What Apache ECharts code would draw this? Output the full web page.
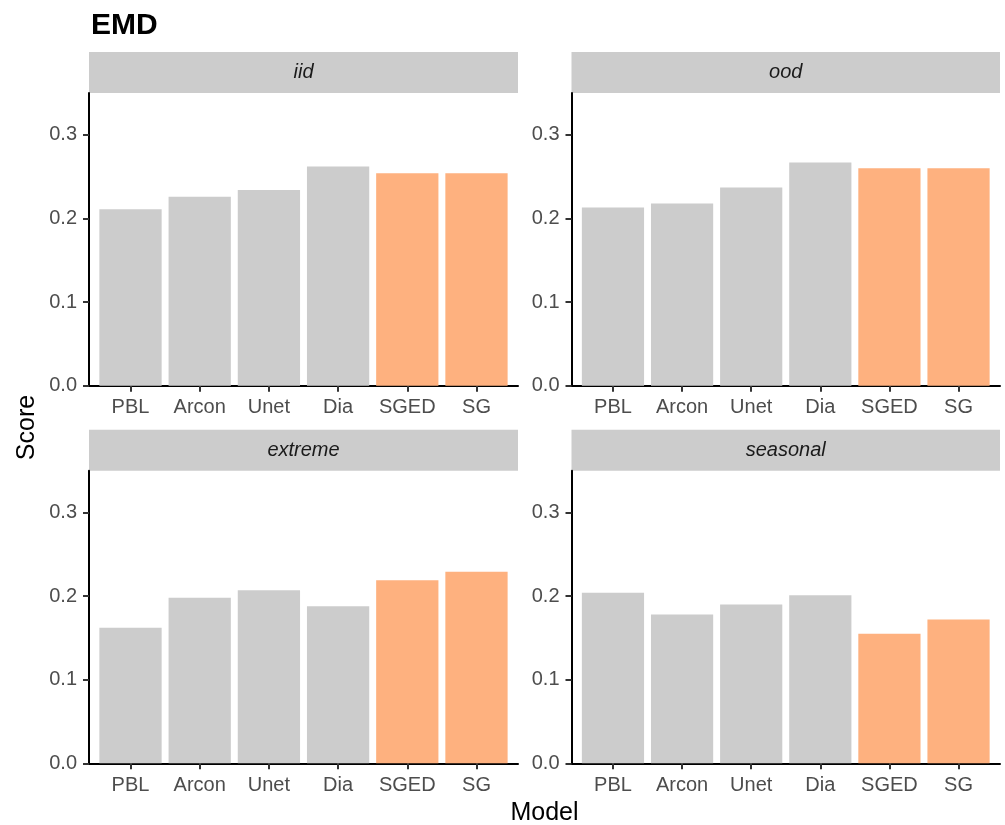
<!DOCTYPE html>
<html>
<head>
<meta charset="utf-8">
<script src="https://cdn.jsdelivr.net/npm/echarts@6/dist/echarts.min.js"></script>
<style>
  html, body { margin: 0; padding: 0; background: #fff; }
  #chart { width: 1005px; height: 825px; }
</style>
</head>
<body>
<div id="chart"></div>
<script>
// Model categories and EMD scores for each evaluation split
const models = ['PBL', 'Arcon', 'Unet', 'Dia', 'SGED', 'SG'];
const highlighted = ['SGED', 'SG'];
const iid = [0.211, 0.226, 0.234, 0.262, 0.254, 0.254];
const ood = [0.213, 0.218, 0.237, 0.267, 0.260, 0.260];
const extreme = [0.162, 0.198, 0.207, 0.188, 0.219, 0.229];
const seasonal = [0.204, 0.178, 0.190, 0.201, 0.155, 0.172];
const yTicks = [0, 0.1, 0.2, 0.3];

const FONT = "'Liberation Sans', Arial, Helvetica, sans-serif";
const GREY = '#CCCCCC';
const ORANGE = '#FEB17F';

// Panel boxes (plot area of each facet)
const panels = [
  { name: 'iid', values: iid, left: 89, top: 93, width: 429, height: 292.7 },
  { name: 'ood', values: ood, left: 571.5, top: 93, width: 428.5, height: 292.7 },
  { name: 'extreme', values: extreme, left: 89, top: 470.7, width: 429, height: 292.6 },
  { name: 'seasonal', values: seasonal, left: 571.5, top: 470.7, width: 428.5, height: 292.6 }
];
const STRIP_H = 41;

const grids = [], xAxes = [], yAxes = [], series = [], graphics = [];
const xTickPos = models.map((_, i) => i + 1);

panels.forEach((p, k) => {
  grids.push({ left: p.left, top: p.top, width: p.width, height: p.height, containLabel: false });
  xAxes.push({
    type: 'value', gridIndex: k, min: 0.4, max: 6.6,
    axisLine: { show: true, onZero: false, lineStyle: { color: '#000', width: 2 } },
    axisTick: { show: true, length: 6, customValues: xTickPos, lineStyle: { color: '#333', width: 2 } },
    axisLabel: {
      customValues: xTickPos, margin: 12, color: '#4D4D4D', fontSize: 20, fontFamily: FONT,
      formatter: v => models[Math.round(v) - 1] || ''
    },
    splitLine: { show: false }
  });
  yAxes.push({
    type: 'value', gridIndex: k, min: 0, max: 0.35,
    axisLine: { show: true, onZero: false, lineStyle: { color: '#000', width: 2 } },
    axisTick: { show: true, length: 6, customValues: yTicks, lineStyle: { color: '#333', width: 2 } },
    axisLabel: {
      customValues: yTicks, margin: 12, color: '#4D4D4D', fontSize: 20, fontFamily: FONT,
      formatter: v => v.toFixed(1)
    },
    splitLine: { show: false }
  });
  const unit = p.width / 6.2;
  series.push({
    type: 'bar', xAxisIndex: k, yAxisIndex: k,
    barWidth: unit * 0.9,
    silent: true,
    data: p.values.map((v, i) => ({
      value: [i + 1, v],
      itemStyle: { color: highlighted.includes(models[i]) ? ORANGE : GREY }
    }))
  });
  // facet strip
  graphics.push({
    type: 'rect', silent: true,
    shape: { x: p.left, y: p.top - STRIP_H, width: p.width, height: STRIP_H },
    style: { fill: GREY }
  });
  graphics.push({
    type: 'text', silent: true,
    x: p.left + p.width / 2, y: p.top - STRIP_H / 2,
    style: {
      text: p.name, fill: '#1A1A1A', fontSize: 20, fontStyle: 'italic', fontFamily: FONT,
      align: 'center', verticalAlign: 'middle'
    }
  });
});

// shared axis titles
graphics.push({
  type: 'text', silent: true, x: 27, y: 427.5, rotation: Math.PI / 2,
  style: { text: 'Score', fill: '#000', fontSize: 25, fontFamily: FONT, align: 'center', verticalAlign: 'middle' }
});
graphics.push({
  type: 'text', silent: true, x: 544.5, y: 813,
  style: { text: 'Model', fill: '#000', fontSize: 25, fontFamily: FONT, align: 'center', verticalAlign: 'middle' }
});

const chart = echarts.init(document.getElementById('chart'), null, { renderer: 'canvas' });
chart.setOption({
  animation: false,
  backgroundColor: '#fff',
  title: {
    text: 'EMD', left: 86, top: 6,
    textStyle: { fontSize: 30, fontWeight: 'bold', color: '#000', fontFamily: FONT }
  },
  grid: grids,
  xAxis: xAxes,
  yAxis: yAxes,
  series: series,
  graphic: graphics
});
</script>
</body>
</html>
